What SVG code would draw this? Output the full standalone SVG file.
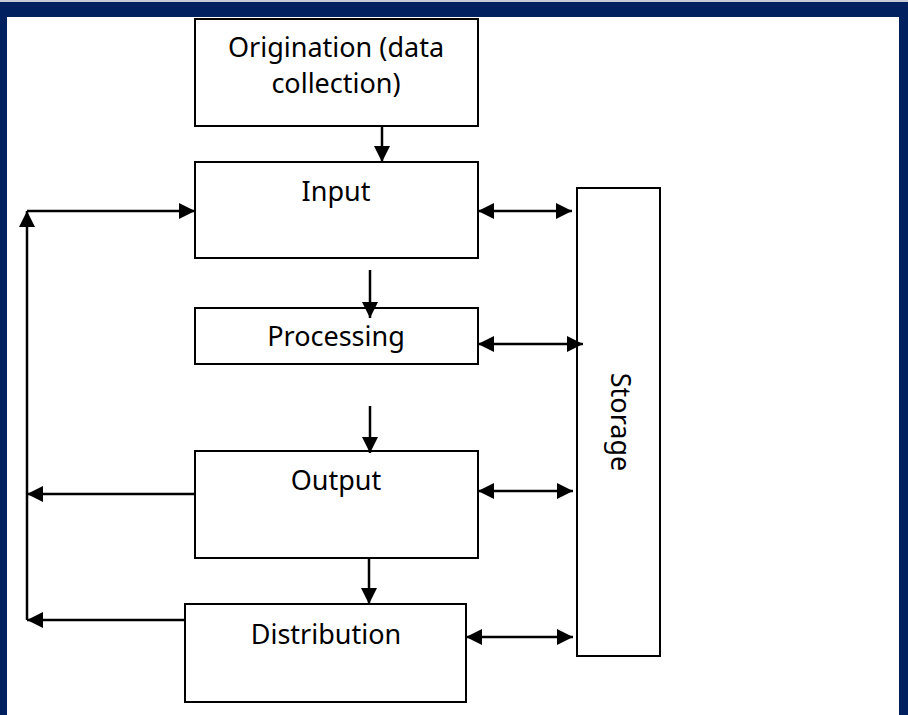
<svg xmlns="http://www.w3.org/2000/svg" width="908" height="715" viewBox="0 0 908 715">
  <style>
    .box { fill: #ffffff; stroke: #000000; stroke-width: 2; }
    .lbl { font-family: "Noto Sans", "DejaVu Sans", sans-serif; font-size: 27px; fill: #000000; text-anchor: middle; }
    .wire { fill: none; stroke: #000000; stroke-width: 2.5; }
    .frame { fill: #002060; }
  </style>
  <defs>
    <marker id="head" viewBox="0 0 16 16" refX="16" refY="8" markerWidth="16" markerHeight="16" markerUnits="userSpaceOnUse" orient="auto-start-reverse">
      <path d="M0,0 L16,8 L0,16 Z" fill="#000000"/>
    </marker>
  </defs>

  <!-- page background and frame -->
  <rect x="0" y="0" width="908" height="715" fill="#ffffff"/>
  <rect x="0" y="0" width="908" height="2" fill="#c9ccd6"/>
  <rect class="frame" x="0" y="2" width="908" height="15"/>
  <rect class="frame" x="0" y="2" width="7" height="713"/>
  <rect class="frame" x="899" y="2" width="9" height="713"/>

  <g id="origination">
    <rect class="box" x="195" y="19" width="283" height="107"/>
    <text class="lbl" x="336" y="57">Origination (data</text>
    <text class="lbl" x="336" y="93">collection)</text>
  </g>

  <g id="input">
    <rect class="box" x="195" y="162" width="283" height="96"/>
    <text class="lbl" x="336" y="201">Input</text>
  </g>

  <g id="processing">
    <rect class="box" x="195" y="308" width="283" height="56"/>
    <text class="lbl" x="336" y="346">Processing</text>
  </g>

  <g id="output">
    <rect class="box" x="195" y="451" width="283" height="107"/>
    <text class="lbl" x="336" y="490">Output</text>
  </g>

  <g id="distribution">
    <rect class="box" x="185" y="604" width="281" height="98"/>
    <text class="lbl" x="326" y="644">Distribution</text>
  </g>

  <g id="storage">
    <rect class="box" x="577" y="188" width="83" height="468"/>
    <text class="lbl" transform="translate(611 422) rotate(90)" x="0" y="0">Storage</text>
  </g>

  <!-- connectors -->
  <g id="connectors">
    <line class="wire" x1="382" y1="126" x2="382" y2="162" marker-end="url(#head)"/>
    <line class="wire" x1="370" y1="270" x2="370" y2="318" marker-end="url(#head)"/>
    <line class="wire" x1="370" y1="406" x2="370" y2="453" marker-end="url(#head)"/>
    <line class="wire" x1="369" y1="558" x2="369" y2="604" marker-end="url(#head)"/>

    <!-- feedback loop on the left -->
    <line class="wire" x1="195" y1="494" x2="27" y2="494" marker-end="url(#head)"/>
    <line class="wire" x1="185" y1="620" x2="27" y2="620" marker-end="url(#head)"/>
    <line class="wire" x1="27" y1="620" x2="27" y2="211" marker-end="url(#head)"/>
    <line class="wire" x1="27" y1="211" x2="195" y2="211" marker-end="url(#head)"/>

    <!-- two-way links to storage -->
    <line class="wire" x1="478" y1="211" x2="572" y2="211" marker-start="url(#head)" marker-end="url(#head)"/>
    <line class="wire" x1="478" y1="344" x2="583" y2="344" marker-start="url(#head)" marker-end="url(#head)"/>
    <line class="wire" x1="478" y1="491" x2="573" y2="491" marker-start="url(#head)" marker-end="url(#head)"/>
    <line class="wire" x1="466" y1="637" x2="573" y2="637" marker-start="url(#head)" marker-end="url(#head)"/>
  </g>
</svg>
